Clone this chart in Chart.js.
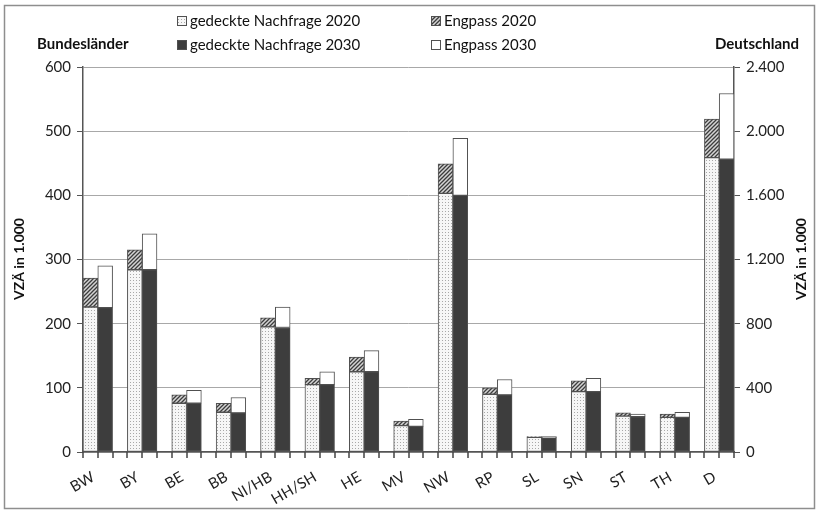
<!DOCTYPE html>
<html>
<head>
<meta charset="utf-8">
<script src="https://cdn.jsdelivr.net/npm/chart.js@4/dist/chart.umd.min.js"></script>
<style>
  html, body { margin: 0; padding: 0; background: #fff; }
  #wrap { width: 818px; height: 513px; }
</style>
</head>
<body>
<div id="wrap"><canvas id="grafik" width="818" height="513"></canvas></div>
<script>
// Bundesländer (linke Achse, VZÄ in 1.000)
const laender = ['BW', 'BY', 'BE', 'BB', 'NI/HB', 'HH/SH', 'HE', 'MV', 'NW', 'RP', 'SL', 'SN', 'ST', 'TH'];
const gedeckt2020 = [226, 284, 76, 62, 195, 105, 125, 41, 403, 90, 23, 94, 56, 54];
const engpass2020 = [45, 31, 13, 14, 14, 10, 23, 7, 46, 10, 1, 17, 5, 5];
const gedeckt2030 = [225, 284, 76, 61, 194, 105, 125, 40, 400, 89, 22, 94, 55, 54];
const engpass2030 = [65, 56, 20, 24, 32, 20, 33, 11, 89, 24, 2, 21, 4, 8];

// Deutschland (rechte Achse)
const deutschland = 'D';
const dGedeckt = [1835, 1825];   // 2020, 2030
const dEngpass = [240, 410];     // 2020, 2030

const ticksLinks = [0, 100, 200, 300, 400, 500, 600];
const ticksRechts = [0, 400, 800, 1200, 1600, 2000, 2400];

const schrift = 'Lato';

// je Kategorie: Balken 2020, Balken 2030, Lücke (nach D keine Lücke)
const kategorien = laender.concat([deutschland]);
const slots = [];
kategorien.forEach((k, i) => {
    slots.push(k, '');
    if (i < kategorien.length - 1) slots.push('');
});

function reihe(werte, versatz) {
    const arr = slots.map(() => null);
    werte.forEach((v, i) => { arr[3 * i + versatz] = v; });
    return arr;
}
function reiheD(wert, versatz) {
    const arr = slots.map(() => null);
    arr[3 * laender.length + versatz] = wert;
    return arr;
}

function punktMuster() {
    const c = document.createElement('canvas');
    c.width = 3; c.height = 3;
    const g = c.getContext('2d');
    g.fillStyle = '#f6f6f6'; g.fillRect(0, 0, 3, 3);
    g.fillStyle = '#a8a8a8'; g.fillRect(1, 1, 1, 1);
    return g.createPattern(c, 'repeat');
}
function schraffur() {
    const c = document.createElement('canvas');
    c.width = 4; c.height = 4;
    const g = c.getContext('2d');
    g.fillStyle = '#d4d4d4'; g.fillRect(0, 0, 4, 4);
    g.strokeStyle = '#3c3c3c'; g.lineWidth = 1.3;
    g.beginPath();
    g.moveTo(0, 4); g.lineTo(4, 0);
    g.moveTo(-1, 1); g.lineTo(1, -1);
    g.moveTo(3, 5); g.lineTo(5, 3);
    g.stroke();
    return g.createPattern(c, 'repeat');
}

const fuellung = {
    g2020: punktMuster(),
    e2020: schraffur(),
    g2030: '#3d3d3d',
    e2030: '#ffffff'
};
const rand = '#505050';

function ds(label, data, farbe, achse) {
    return {
        label: label,
        data: data,
        backgroundColor: farbe,
        borderColor: rand,
        borderWidth: 1,
        borderSkipped: false,
        stack: 'a',
        yAxisID: achse,
        categoryPercentage: 1,
        barPercentage: 1
    };
}

const datasets = [
    ds('gedeckte Nachfrage 2020', reihe(gedeckt2020, 0), fuellung.g2020, 'y'),
    ds('Engpass 2020', reihe(engpass2020, 0), fuellung.e2020, 'y'),
    ds('gedeckte Nachfrage 2030', reihe(gedeckt2030, 1), fuellung.g2030, 'y'),
    ds('Engpass 2030', reihe(engpass2030, 1), fuellung.e2030, 'y'),
    ds('D gedeckt 2020', reiheD(dGedeckt[0], 0), fuellung.g2020, 'y2'),
    ds('D Engpass 2020', reiheD(dEngpass[0], 0), fuellung.e2020, 'y2'),
    ds('D gedeckt 2030', reiheD(dGedeckt[1], 1), fuellung.g2030, 'y2'),
    ds('D Engpass 2030', reiheD(dEngpass[1], 1), fuellung.e2030, 'y2')
];

function tausender(v) {
    return String(v).replace(/\B(?=(\d{3})+(?!\d))/g, '.');
}

// Rahmen, Überschriften, Achsentitel und Legende
const deko = {
    id: 'deko',
    afterDraw(chart) {
        const ctx = chart.ctx;
        const ca = chart.chartArea;
        ctx.save();
        ctx.strokeStyle = '#8e8e8e';
        ctx.lineWidth = 1.5;
        ctx.strokeRect(4.5, 5.5, 810, 503);

        // Teilstriche der x-Achse an jeder Balkengrenze
        const breite = (ca.right - ca.left) / slots.length;
        ctx.fillStyle = '#444444';
        for (let i = 0; i <= slots.length; i++) {
            const px = Math.round(ca.left + i * breite);
            ctx.fillRect(px - 0.75, ca.bottom, 1.5, 6);
        }

        ctx.fillStyle = '#111';
        ctx.textBaseline = 'middle';
        ctx.font = 'bold 15px ' + schrift;
        ctx.textAlign = 'left';
        ctx.fillText('Bundesländer', 37, 44);
        ctx.textAlign = 'right';
        ctx.fillText('Deutschland', 799, 44);

        ctx.font = 'bold 14px ' + schrift;
        ctx.textAlign = 'center';
        [19, 801].forEach(xt => {
            ctx.save();
            ctx.translate(xt, 259);
            ctx.rotate(-Math.PI / 2);
            ctx.fillText('VZÄ in 1.000', 0, 0);
            ctx.restore();
        });

        ctx.font = '15px ' + schrift;
        ctx.textAlign = 'left';
        const spalten = [177, 431];
        const zeilen = [21, 45];
        chart.data.datasets.slice(0, 4).forEach((d, i) => {
            const lx = spalten[i % 2];
            const ly = zeilen[Math.floor(i / 2)];
            ctx.fillStyle = d.backgroundColor;
            ctx.fillRect(lx, ly - 5, 10, 10);
            ctx.strokeStyle = '#505050';
            ctx.lineWidth = 1;
            ctx.strokeRect(lx + 0.5, ly - 4.5, 9, 9);
            ctx.fillStyle = '#111';
            ctx.fillText(d.label, lx + 13, ly);
        });
        ctx.restore();
    }
};

const ctx = document.getElementById('grafik');
const grafik = new Chart(ctx, {
    type: 'bar',
    data: { labels: slots, datasets: datasets },
    options: {
        responsive: false,
        animation: false,
        layout: { padding: { top: 67, left: 0, right: 0, bottom: 0 } },
        plugins: {
            legend: { display: false },
            tooltip: { enabled: false }
        },
        scales: {
            x: {
                stacked: true,
                grid: {
                    display: false
                },
                border: { color: '#555', width: 1.5 },
                ticks: {
                    autoSkip: false,
                    minRotation: 30,
                    maxRotation: 30,
                    labelOffset: 3,
                    padding: 8,
                    color: '#222',
                    font: { family: schrift, size: 15 }
                },
                afterFit: s => { s.height = 61; }
            },
            y: {
                position: 'left',
                stacked: true,
                min: 0,
                max: 600,
                afterBuildTicks: s => { s.ticks = ticksLinks.map(v => ({ value: v })); },
                grid: {
                    color: '#a8a8a8',
                    tickColor: '#555',
                    tickLength: 6
                },
                border: { color: '#555', width: 1.5 },
                ticks: {
                    padding: 6,
                    color: '#222',
                    font: { family: schrift, size: 15 }
                },
                afterFit: s => { s.width = 83; }
            },
            y2: {
                position: 'right',
                stacked: true,
                min: 0,
                max: 2400,
                afterBuildTicks: s => { s.ticks = ticksRechts.map(v => ({ value: v })); },
                grid: {
                    drawOnChartArea: false,
                    tickColor: '#555',
                    tickLength: 6
                },
                border: { color: '#555', width: 1.5 },
                ticks: {
                    padding: 6,
                    color: '#222',
                    font: { family: schrift, size: 15 },
                    callback: v => tausender(v)
                },
                afterFit: s => { s.width = 84; }
            }
        }
    },
    plugins: [deko]
});
</script>
</body>
</html>
